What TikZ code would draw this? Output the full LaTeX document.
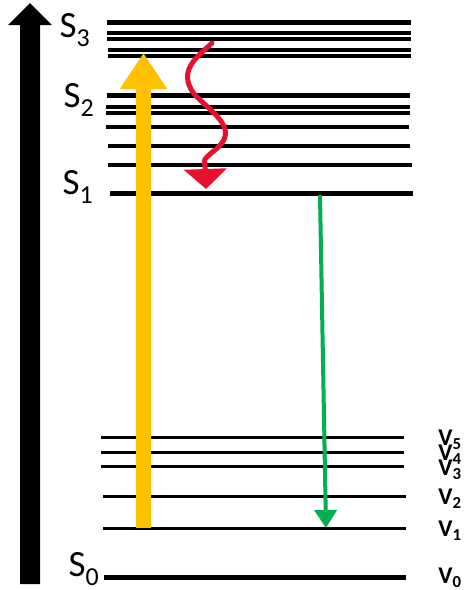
\documentclass[tikz,border=0pt]{standalone}
\usepackage{fontspec}
\setmainfont{Carlito}
\usetikzlibrary{arrows.meta}
\definecolor{excite}{HTML}{FFC000}
\definecolor{emit}{HTML}{00B050}
\definecolor{relax}{HTML}{E8112D}
\begin{document}
\begin{tikzpicture}[x=1pt,y=-1pt,
  level/.style={line width=#1},
  slabel/.style={font=\fontsize{37}{37}\selectfont, inner sep=0pt},
  vlabel/.style={font=\bfseries\fontsize{24}{24}\selectfont, inner sep=0pt}]
\useasboundingbox (0,0) rectangle (467,590);

% energy axis
\fill (20,584) -- (20,25) -- (8,25) -- (30,3) -- (52,25) -- (40,25) -- (40,584) -- cycle;

% singlet manifold S3
\draw[level=5pt] (107,22) -- (411,22);
\draw[level=4pt] (107,33) -- (411,33);
\draw[level=4pt] (107,39) -- (411,39);
\draw[level=4pt] (108,50) -- (411,50);
\draw[level=4pt] (108,56) -- (411,56);
% S2 and its vibrational levels
\draw[level=5pt] (107,95) -- (410,95);
\draw[level=4pt] (106,107) -- (410,107);
\draw[level=4pt] (106,113) -- (410,113);
\draw[level=3.5pt] (106,127) -- (409,127);
\draw[level=3.5pt] (108,146) -- (410,146);
\draw[level=3.5pt] (108,165) -- (412,165);
% S1
\coordinate (s1a) at (110,193);
\coordinate (s1b) at (413,193);
\draw[level=5pt] (s1a) -- (s1b);

% ground state vibrational levels
\draw[level=3pt] (101,437) -- (404,437);
\draw[level=3pt] (101,452) -- (404,452);
\draw[level=3pt] (101,466) -- (404,466);
\draw[level=3pt] (103,496) -- (406,496);
\draw[level=3pt] (103,528) -- (406,528);
\draw[level=5pt] (104,577) -- (406,577);

% state labels
\node[slabel] (S3) at (75,30) {S\textsubscript{3}};
\node[slabel] (S2) at (79,100) {S\textsubscript{2}};
\node[slabel] (S1) at (78,187) {S\textsubscript{1}};
\node[slabel] (S0) at (84,569) {S\textsubscript{0}};

\node[vlabel] (v5) at (450,440) {V\textsubscript{5}};
\node[vlabel] (v4) at (450,455) {V\textsubscript{4}};
\node[vlabel] (v3) at (450,470) {V\textsubscript{3}};
\node[vlabel] (v2) at (450,499) {V\textsubscript{2}};
\node[vlabel] (v1) at (450,531) {V\textsubscript{1}};
\node[vlabel] (v0) at (450,578) {V\textsubscript{0}};

% absorption
\coordinate (absA) at (143.5,528);
\coordinate (absB) at (143.5,53);
\draw[excite, line width=15pt, -{Triangle[width=45pt,length=36pt]}] (absA) -- (absB);

% internal conversion
\coordinate (icA) at (212,43);
\coordinate (icB) at (206,189);
\draw[relax, line width=5pt, line cap=round, -{Triangle[width=42pt,length=20pt]}]
  (icA) .. controls (200,55) and (175,70) .. (195,95)
        .. controls (215,115) and (240,130) .. (215,150)
        .. controls (200,162) and (205,160) .. (icB);

% fluorescence
\coordinate (flA) at (320,195);
\coordinate (flB) at (326,528);
\draw[emit, line width=4pt, -{Triangle[width=22pt,length=18pt]}] (flA) -- (flB);
\end{tikzpicture}
\end{document}
